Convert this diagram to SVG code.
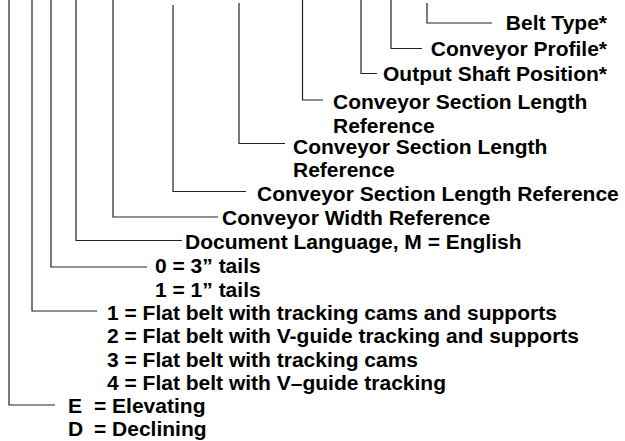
<svg xmlns="http://www.w3.org/2000/svg" width="625" height="441" viewBox="0 0 625 441">
<style>
text{font-family:"Liberation Sans",Arial,Helvetica,sans-serif;font-weight:bold;font-size:21px;fill:#000}
.c{fill:none;stroke:#222;stroke-width:1.2}
</style>
<rect width="625" height="441" fill="#fff"/>
<g id="connectors">
<path class="c" d="M427,3V23H492"/>
<path class="c" d="M391,0V48.5H422"/>
<path class="c" d="M361,0V73.5H377"/>
<path class="c" d="M302.5,0V100H323"/>
<path class="c" d="M239,3V143.5H285"/>
<path class="c" d="M173,5V191.5H246"/>
<path class="c" d="M113,0V217H218"/>
<path class="c" d="M76,0V240.5H182"/>
<path class="c" d="M51,0V267H147"/>
<path class="c" d="M32,0V311H97"/>
<path class="c" d="M9,0V405H55"/>
</g>
<g id="belt-type"><text x="607" y="30" text-anchor="end">Belt Type*</text></g>
<g id="conveyor-profile"><text x="607" y="56" text-anchor="end">Conveyor Profile*</text></g>
<g id="output-shaft"><text x="607" y="81" text-anchor="end">Output Shaft Position*</text></g>
<g id="csl-ref-1"><text x="333" y="109">Conveyor Section Length</text><text x="333" y="133">Reference</text></g>
<g id="csl-ref-2"><text x="293" y="154">Conveyor Section Length</text><text x="293" y="177">Reference</text></g>
<g id="csl-ref-3"><text x="257" y="201">Conveyor Section Length Reference</text></g>
<g id="width-ref"><text x="222" y="225">Conveyor Width Reference</text></g>
<g id="doc-lang"><text x="185" y="249">Document Language, M = English</text></g>
<g id="tails"><text x="155" y="273">0 = 3” tails</text><text x="155" y="297">1 = 1” tails</text></g>
<g id="tracking"><text x="107" y="320">1 = Flat belt with tracking cams and supports</text><text x="107" y="343">2 = Flat belt with V-guide tracking and supports</text><text x="107" y="367">3 = Flat belt with tracking cams</text><text x="107" y="390">4 = Flat belt with V–guide tracking</text></g>
<g id="direction"><text x="68" y="413">E<tspan x="94">= Elevating</tspan></text><text x="68" y="436">D<tspan x="94">= Declining</tspan></text></g>
</svg>
